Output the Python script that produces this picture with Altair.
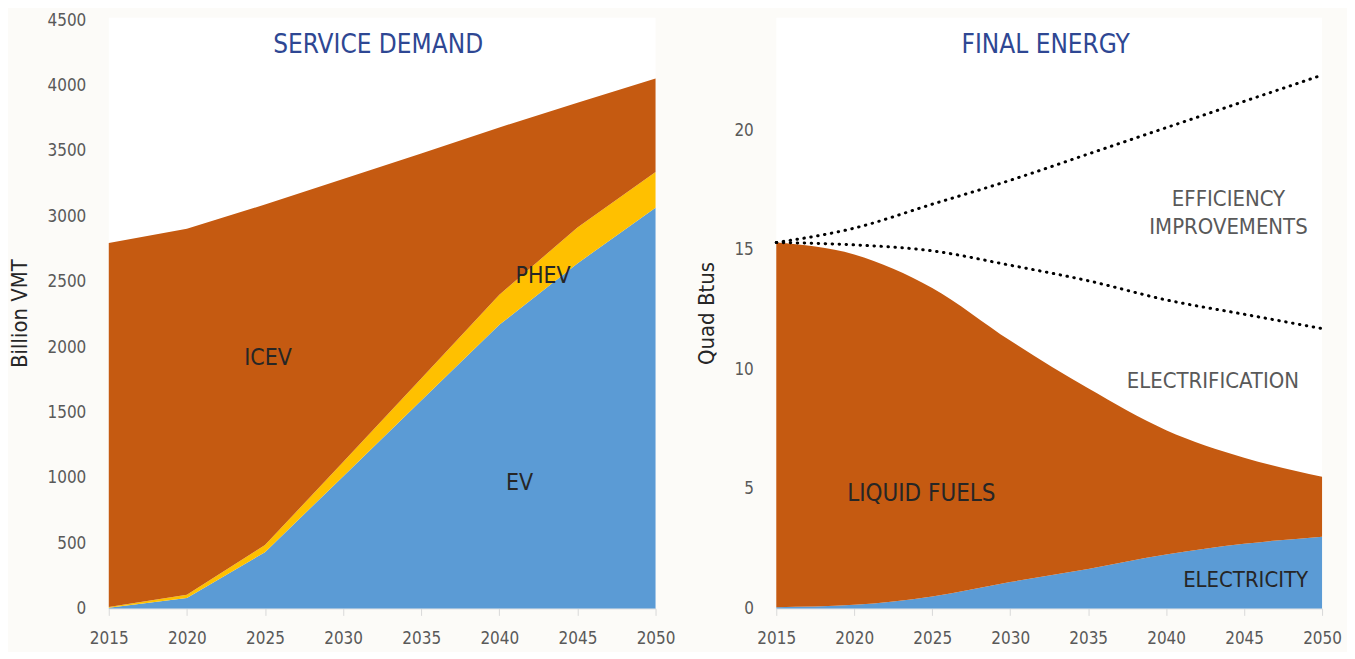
import altair as alt
import pandas as pd

# ---------------- data ----------------
years = [2015, 2020, 2025, 2030, 2035, 2040, 2045, 2050]

# Service demand (Billion VMT), stacked
ev_vmt = [5, 80, 430, 1010, 1590, 2170, 2640, 3065]
phev_vmt = [5, 25, 55, 110, 170, 230, 275, 275]
icev_vmt = [2785, 2800, 2605, 2165, 1720, 1280, 955, 715]

# Final energy (Quad Btus), stacked
electricity = [0.05, 0.15, 0.5, 1.1, 1.65, 2.25, 2.7, 3.0]
liquid_fuels = [15.25, 14.65, 12.9, 10.1, 7.55, 5.2, 3.6, 2.5]

# Counterfactual dotted lines
no_efficiency = [15.3, 15.9, 16.9, 17.9, 19.0, 20.1, 21.2, 22.3]
no_electrification = [15.3, 15.2, 14.95, 14.35, 13.7, 12.9, 12.3, 11.7]

left_ticks = [0, 500, 1000, 1500, 2000, 2500, 3000, 3500, 4000, 4500]
right_ticks = [0, 5, 10, 15, 20]

left_labels = ["ICEV", "PHEV", "EV"]
left_label_x = [2025.2, 2042.8, 2041.3]
left_label_y = [1916, 2542, 962]

right_labels = ["EFFICIENCY", "IMPROVEMENTS", "ELECTRIFICATION", "LIQUID FUELS", "ELECTRICITY"]
right_label_x = [2044.0, 2044.0, 2043.0, 2024.3, 2045.1]
right_label_y = [17.1, 15.95, 9.52, 4.8, 1.17]
right_label_color = ["#595959", "#595959", "#595959", "#262626", "#262626"]
right_label_size = [22, 22, 22, 24, 22]

# ---------------- styles ----------------
FONT = "DejaVu Sans Condensed, Liberation Sans Narrow, Roboto Condensed, sans-serif"
ORANGE = "#C55A11"
YELLOW = "#FFC000"
BLUE = "#5B9BD5"
TITLE_BLUE = "#2E4793"
BG = "#FCFBF8"
W, H = 548, 592

# ---------------- tables ----------------
sd_rows = []
for tech, vals, o in [("EV", ev_vmt, 0), ("PHEV", phev_vmt, 1), ("ICEV", icev_vmt, 2)]:
    for yr, v in zip(years, vals):
        sd_rows.append({"year": yr, "tech": tech, "value": v, "order": o})
df_sd = pd.DataFrame(sd_rows)

fe_rows = []
for tech, vals, o in [("ELECTRICITY", electricity, 0), ("LIQUID FUELS", liquid_fuels, 1)]:
    for yr, v in zip(years, vals):
        fe_rows.append({"year": yr, "fuel": tech, "value": v, "order": o})
df_fe = pd.DataFrame(fe_rows)

ln_rows = []
for name, vals in [("noeff", no_efficiency), ("noelec", no_electrification)]:
    for yr, v in zip(years, vals):
        ln_rows.append({"year": yr, "series": name, "value": v})
df_ln = pd.DataFrame(ln_rows)

df_ll = pd.DataFrame({"text": left_labels, "x": left_label_x, "y": left_label_y})
df_rl = pd.DataFrame({"text": right_labels, "x": right_label_x, "y": right_label_y,
                      "c": right_label_color, "s": right_label_size})

x_axis = alt.Axis(values=years, format="d", title=None, grid=False, labelFlush=False,
                  labelFont=FONT, labelFontSize=17, labelColor="#595959",
                  domainColor="#D9D9D9", tickColor="#D9D9D9", tickSize=7,
                  labelPadding=15)

x_enc = alt.X("year:Q", scale=alt.Scale(domain=[2015, 2050], nice=False, zero=False),
              axis=x_axis)

# ---------------- left panel ----------------
left_y = alt.Y("value:Q", stack="zero",
               scale=alt.Scale(domain=[0, 4520], nice=False),
               axis=alt.Axis(values=left_ticks, format="d", title="Billion VMT", grid=False,
                             ticks=False, tickSize=0, domain=False,
                             labelFont=FONT, labelFontSize=17, labelColor="#595959",
                             labelPadding=23, titleFont=FONT, titleFontSize=22,
                             titleFontWeight="normal", titleColor="#262626",
                             titleX=-77, titleY=296))

left_area = alt.Chart(df_sd).mark_area(interpolate="linear").encode(
    x=x_enc,
    y=left_y,
    color=alt.Color("tech:N", scale=alt.Scale(domain=["EV", "PHEV", "ICEV"],
                                               range=[BLUE, YELLOW, ORANGE]), legend=None),
    order=alt.Order("order:Q"),
)

left_text = alt.Chart(df_ll).mark_text(font=FONT, fontSize=23, color="#262626",
                                       align="center", baseline="middle").encode(
    x="x:Q", y="y:Q", text="text:N")

left_title = alt.Chart(pd.DataFrame({"t": ["SERVICE DEMAND"]})).mark_text(
    font=FONT, fontSize=26, color=TITLE_BLUE, align="center", baseline="middle").encode(
    x=alt.value(W / 2 - 4), y=alt.value(27), text="t:N")

left = alt.layer(left_area, left_text, left_title).properties(width=W, height=H)

# ---------------- right panel ----------------
right_y = alt.Y("value:Q", stack="zero",
                scale=alt.Scale(domain=[0, 24.7], nice=False),
                axis=alt.Axis(values=right_ticks, title="Quad Btus", grid=False,
                              ticks=False, tickSize=0, domain=False,
                              labelFont=FONT, labelFontSize=17, labelColor="#595959",
                              labelPadding=23, titleFont=FONT, titleFontSize=22,
                              titleFontWeight="normal", titleColor="#262626",
                              titleX=-58, titleY=296))

right_area = alt.Chart(df_fe).mark_area(interpolate="monotone").encode(
    x=x_enc,
    y=right_y,
    color=alt.Color("fuel:N", scale=alt.Scale(domain=["ELECTRICITY", "LIQUID FUELS"],
                                               range=[BLUE, ORANGE]), legend=None),
    order=alt.Order("order:Q"),
)

right_lines = alt.Chart(df_ln).mark_line(interpolate="monotone", color="black",
                                          strokeWidth=3, strokeCap="round",
                                          strokeDash=[0.5, 6.5]).encode(
    x="year:Q", y=alt.Y("value:Q", stack=None), detail="series:N")

right_text = alt.Chart(df_rl).mark_text(font=FONT,
                                        align="center", baseline="middle").encode(
    x="x:Q", y="y:Q", text="text:N", color=alt.Color("c:N", scale=None),
    size=alt.Size("s:Q", scale=None))

right_title = alt.Chart(pd.DataFrame({"t": ["FINAL ENERGY"]})).mark_text(
    font=FONT, fontSize=26, color=TITLE_BLUE, align="center", baseline="middle").encode(
    x=alt.value(W / 2 - 4), y=alt.value(27), text="t:N")

right = alt.layer(right_area, right_lines, right_text, right_title).properties(
    width=W - 1, height=H)

chart = alt.hconcat(left, right, spacing=121, bounds="flush").resolve_scale(
    color="independent"
).properties(
    background=BG,
    padding={"left": 1, "top": 2, "right": 5, "bottom": 5},
).configure_view(fill="white", stroke=None)

chart.save("out.html", embed_options={"renderer": "svg", "actions": False})
